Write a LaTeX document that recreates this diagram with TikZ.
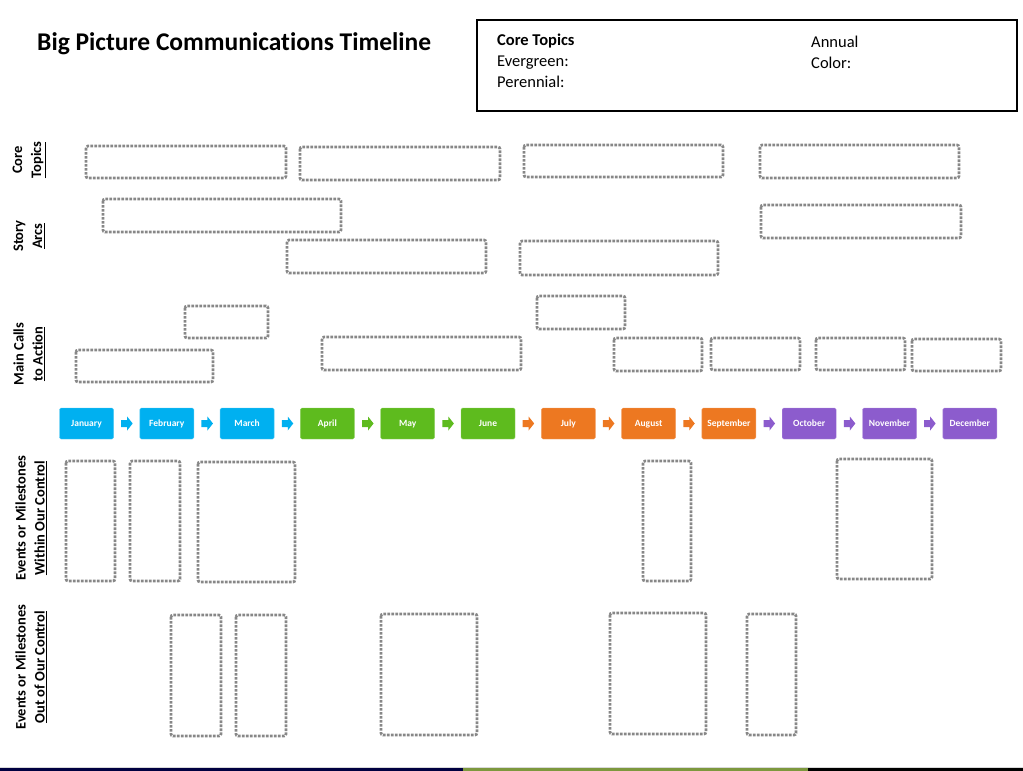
\documentclass[tikz,border=0pt]{standalone}
\usepackage{fontspec}
\setmainfont{Carlito}[Ligatures=NoCommon]
\usetikzlibrary{positioning, calc}
\definecolor{cBlue}{RGB}{0,176,240}
\definecolor{cGreen}{RGB}{94,187,30}
\definecolor{cOrange}{RGB}{237,120,33}
\definecolor{cPurple}{RGB}{140,92,205}
\definecolor{cSlot}{RGB}{135,135,135}

\begin{document}
\begin{tikzpicture}[x=1pt, y=-1pt,
    slot/.style={draw=cSlot, line width=2.7pt, dash pattern=on 2.7pt off 1.3pt, rounded corners=2pt},
    month/.style={fill=#1, draw=#1!70!white, rounded corners=1.5pt, minimum width=54pt, minimum height=31pt, inner sep=0pt, text height=1.4ex, text depth=0.1ex, text=white, font=\fontsize{9.5}{10}\selectfont\bfseries},
    rowlabel/.style={rotate=90, align=center, font=\fontsize{14.5}{19}\selectfont\bfseries},
    keytext/.style={anchor=base west, inner sep=0pt, font=\fontsize{16.5}{18}\selectfont}]

    \useasboundingbox (0,0) rectangle (1023,771);

    % Title and key box
    \node[anchor=base west, inner sep=0pt, font=\fontsize{25.5}{30}\selectfont\bfseries] (title) at (37,50) {Big Picture Communications Timeline};
    \draw[line width=1.5pt] (477,20) rectangle (1017,111);
    \node[keytext, font=\fontsize{16.5}{18}\selectfont\bfseries] (core) at (497,45) {Core Topics};
    \node[keytext] (evergreen) at (497,66) {Evergreen:};
    \node[keytext] (perennial) at (497,87) {Perennial:};
    \node[keytext] (annual) at (811,47) {Annual};
    \node[keytext] (color) at (811,68) {Color:};

    % Row labels on the left
    \node[rowlabel] (lcore) at (29,160) {Core\\\underline{Topics}};
    \node[rowlabel] (larcs) at (29,236) {Story\\\underline{Arcs}};
    \node[rowlabel] (lcalls) at (29,354) {Main Calls\\\underline{to Action}};
    \node[rowlabel] (lwithin) at (31,518) {Events or Milestones\\\underline{Within Our Control}};
    \node[rowlabel] (lout) at (31,667) {Events or Milestones\\\underline{Out of Our Control}};

    % Month blocks
    \foreach \i/\m/\c in {1/January/cBlue, 2/February/cBlue, 3/March/cBlue,
        4/April/cGreen, 5/May/cGreen, 6/June/cGreen,
        7/July/cOrange, 8/August/cOrange, 9/September/cOrange,
        10/October/cPurple, 11/November/cPurple, 12/December/cPurple} {
        \node[month=\c] (m\i) at ({86.5+(\i-1)*80.3},423.5) {\m};
    }

    % Block arrows between months
    \foreach \i/\j/\c in {1/2/cBlue, 2/3/cBlue, 3/4/cBlue, 4/5/cGreen, 5/6/cGreen,
        6/7/cOrange, 7/8/cOrange, 8/9/cOrange, 9/10/cPurple, 10/11/cPurple, 11/12/cPurple} {
        \coordinate (a\i) at ($(m\i.east)!0.5!(m\j.west)$);
        \fill[\c, shift={(a\i)}] (-5.5,-3.5) -- (0.5,-3.5) -- (0.5,-7) -- (6,0) -- (0.5,7) -- (0.5,3.5) -- (-5.5,3.5) -- cycle;
    }

    % Dotted slots: core topics, story arcs, calls to action
    \foreach \xa/\ya/\xb/\yb in {86/146/286/178, 300/147/500/180, 524/145/723/177, 760/145/959/178,
        103/199/341/232, 761/205/961/238, 287/240/486/273, 520/241/718/275,
        185/306/268/338, 76/350/213/382, 537/296/625/329, 322/337/521/370,
        614/338/702/371, 711/338/800/370, 816/338/905/370, 912/339/1001/371} {
        \draw[slot] (\xa,\ya) rectangle (\xb,\yb);
    }

    % Dotted slots: events
    \foreach \xa/\ya/\xb/\yb in {66/461/115/581, 130/461/180/581, 198/462/295/582,
        643/461/691/581, 837/459/932/579,
        171/615/221/736, 236/615/286/736, 381/614/477/735, 610/613/706/734, 747/614/796/735} {
        \draw[slot] (\xa,\ya) rectangle (\xb,\yb);
    }

    % Strip at the bottom edge
    \fill[black!15] (0,766.5) rectangle (1023,768);
    \fill[blue!25!black] (0,768) rectangle (463,771);
    \fill[olive!60!green!70!gray] (463,768) rectangle (808,771);
    \fill[black] (808,768) rectangle (1023,771);
\end{tikzpicture}
\end{document}
